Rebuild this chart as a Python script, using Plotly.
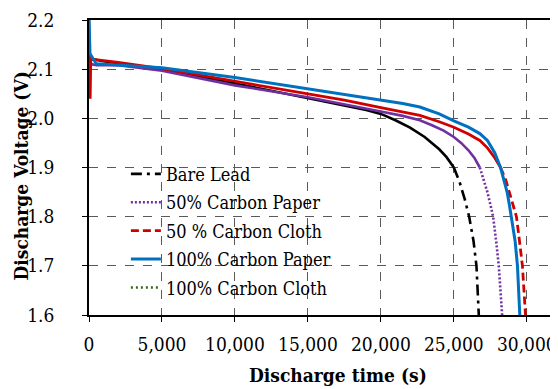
import plotly.graph_objects as go

# ---- data ----
series_names = ["Bare Lead", "50% Carbon Paper", "50 % Carbon Cloth",
                "100% Carbon Paper", "100% Carbon Cloth"]

bare_t = [0, 100, 300, 1000, 2000, 5000, 10000, 15000, 17500, 19000, 20000,
          21000, 22000, 23000, 24000, 24500, 25000, 25400, 25750, 26050,
          26350, 26550, 26710]
bare_v = [2.105, 2.12, 2.12, 2.116, 2.112, 2.099, 2.071, 2.041, 2.027, 2.017,
          2.009, 1.996, 1.981, 1.962, 1.937, 1.921, 1.900, 1.870, 1.835, 1.800,
          1.750, 1.700, 1.600]

cp50_t = [0, 200, 500, 2000, 5000, 10000, 15000, 17500, 20000, 21500, 22670,
          23500, 24300, 25000, 25500, 26000, 26400, 26780, 27050, 27300, 27500,
          27690, 27900, 28080, 28310]
cp50_v = [2.105, 2.11, 2.108, 2.108, 2.097, 2.067, 2.043, 2.029, 2.014, 2.005,
          1.996, 1.986, 1.975, 1.962, 1.950, 1.935, 1.920, 1.900, 1.875, 1.850,
          1.825, 1.800, 1.750, 1.700, 1.600]

cc50_t = [0, 40, 80, 120, 300, 2000, 5000, 10000, 15000, 17500, 20000, 21500,
          22670, 24000, 25000, 26000, 26780, 27300, 27800, 28200, 28550, 28800,
          29050, 29290, 29500, 29700, 29910]
cc50_v = [2.10, 2.165, 2.04, 2.12, 2.12, 2.114, 2.101, 2.076, 2.050, 2.037,
          2.022, 2.013, 2.006, 1.993, 1.982, 1.968, 1.955, 1.940, 1.920, 1.900,
          1.875, 1.850, 1.825, 1.800, 1.750, 1.700, 1.600]

cp100_t = [0, 60, 500, 2000, 5000, 10000, 15000, 17500, 20000, 21500, 22670,
           24000, 25000, 26000, 26780, 27300, 27800, 28200, 28450, 28650, 28800,
           28950, 29200, 29360, 29520]
cp100_v = [2.22, 2.132, 2.111, 2.108, 2.103, 2.083, 2.060, 2.049, 2.037, 2.030,
           2.023, 2.009, 1.995, 1.982, 1.969, 1.955, 1.930, 1.900, 1.875, 1.850,
           1.825, 1.800, 1.750, 1.700, 1.600]

# 100% Carbon Cloth: listed in the legend, no visible curve in the reference
cc100_t = [None]
cc100_v = [None]

x_ticks = [0, 5000, 10000, 15000, 20000, 25000, 30000]
y_ticks = [1.6, 1.7, 1.8, 1.9, 2.0, 2.1, 2.2]

x_title = "Discharge time (s)"
y_title = "Discharge Voltage (V)"

styles = [
    dict(color="#000000", width=2.6, dash="11px,5px,3px,5px"),
    dict(color="#7030A0", width=2.6, dash="2px,2px"),
    dict(color="#D00000", width=2.8, dash="8px,4px"),
    dict(color="#0070C0", width=3.0, dash="solid"),
    dict(color="#2E6B1F", width=2.6, dash="2px,3px"),
]

data = [(bare_t, bare_v), (cp50_t, cp50_v), (cc50_t, cc50_v),
        (cp100_t, cp100_v), (cc100_t, cc100_v)]

FONT = "DejaVu Serif Condensed"
fig = go.Figure()

for name, (t, v), st in zip(series_names, data, styles):
    # steep tail: first point at or below 1.9 V after the start-up region
    idx = next((i for i, (tt, vv) in enumerate(zip(t, v))
                if tt is not None and tt > 1000 and vv <= 1.9), len(t))
    if idx < len(t):
        fig.add_trace(go.Scatter(x=t[:idx + 1], y=v[:idx + 1], mode="lines",
                                 line=dict(color=st["color"], width=st["width"]),
                                 legendgroup=name, showlegend=False,
                                 hoverinfo="skip"))
        fig.add_trace(go.Scatter(x=t[idx:], y=v[idx:], mode="lines", name=name,
                                 line=st, legendgroup=name))
    else:
        fig.add_trace(go.Scatter(x=t, y=v, mode="lines", name=name,
                                 line=st, legendgroup=name, showlegend=True))

axis_common = dict(
    showline=True, linecolor="black", linewidth=1.5, mirror=True,
    showgrid=True, gridcolor="#5a5a5a", griddash="dash", gridwidth=1,
    ticks="outside", ticklen=5, tickcolor="black", tickwidth=1.2,
    zeroline=False, automargin=False, ticklabeloverflow="allow",
    tickfont=dict(family=FONT, size=19, color="black"),
)

title_font = dict(family=FONT, size=19, color="black")

# the page body has an 8px margin, so the figure is 8px smaller and shifted
fig.update_layout(
    width=550, height=381,
    margin=dict(l=81, r=2, t=12, b=74),
    paper_bgcolor="white", plot_bgcolor="white",
    font=dict(family=FONT, color="black"),
    showlegend=True,
    legend=dict(x=0.079, y=0.54, xanchor="left", yanchor="top",
                bgcolor="rgba(0,0,0,0)", tracegroupgap=2,
                font=dict(family=FONT, size=18, color="black")),
    xaxis=dict(range=[0, 32000], tickvals=x_ticks, tickformat=",",
               ticklabelstandoff=6, **axis_common),
    yaxis=dict(range=[1.6, 2.2], tickvals=y_ticks, tickformat=".1f",
               ticklabelstandoff=24, **axis_common),
    annotations=[
        dict(text=f"<b>{x_title}</b>", xref="paper", yref="paper",
             x=0.533, y=-0.203, xanchor="center", yanchor="middle",
             showarrow=False, font=title_font),
        dict(text=f"<b>{y_title}</b>", xref="paper", yref="paper",
             x=-0.1456, y=0.4695, xanchor="center", yanchor="middle",
             textangle=-90, showarrow=False, font=title_font),
    ],
)

fig.write_html("out.html")
